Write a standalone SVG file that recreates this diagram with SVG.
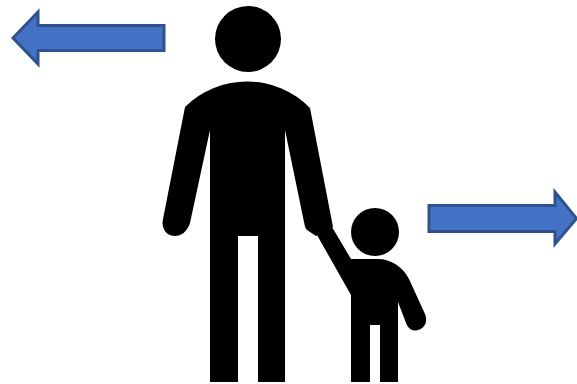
<svg xmlns="http://www.w3.org/2000/svg" width="577" height="384" viewBox="0 0 577 384">
<style>.a{fill:#4472c4;stroke:#2f528f;stroke-width:3;stroke-linejoin:miter}.f{fill:#000}</style>
<rect width="577" height="384" fill="#fff"/>
<g id="left-arrow"><path class="a" d="M13 38 L38 12 V25.500 H164 V50.500 H38 V64 Z"/></g>
<g id="right-arrow"><path class="a" d="M429 205.500 H555 V192 L576.500 218.500 L555 244 V231.500 H429 Z"/></g>
<g id="man">
<circle class="f" cx="248" cy="39" r="33"/>
<path class="f" d="M185 107 A88 88 0 0 1 310 108 L333 227 L316 236 L307 230 Q305 228 304 222 L285 130 V382 H258 V236 H238 V382 H210 V130 L190 223 C187 232 181 236 175 236 C166 236 161 228 163 219 Z"/>
</g>
<g id="child">
<circle class="f" cx="375" cy="232" r="24"/>
<path class="f" d="M351 259 H378 C391 259 403 267 409 279 L425 314 C428 321 425 328 418 330 C412 332 408 328 406 323 L398 302 V382 H380 V325 H370 V382 H351 V295 L317 235 L332 227 Z"/>
</g>
</svg>
